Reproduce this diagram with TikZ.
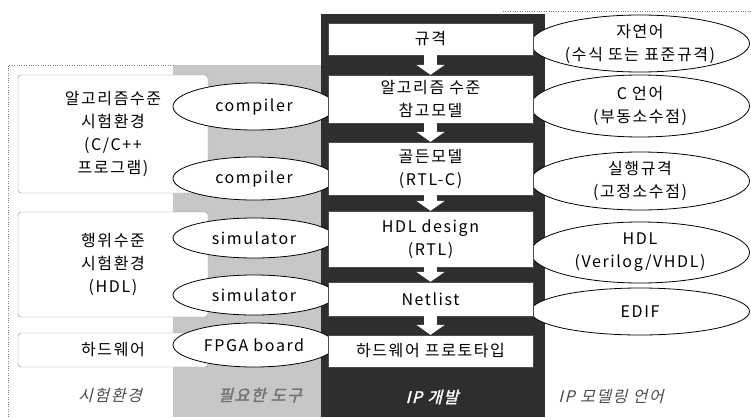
\documentclass[tikz,border=0pt]{standalone}
\usepackage{fontspec}
\setmainfont{Noto Sans CJK KR}[LetterSpace=10]
\newfontfamily\slantfont{Noto Sans CJK KR}[FakeSlant=0.25,LetterSpace=10]
\newfontfamily\heavyslantfont{Noto Sans CJK KR}[FakeSlant=0.25,FakeBold=2,LetterSpace=10]
\usetikzlibrary{shapes.geometric,arrows.meta}

\tikzset{
  ipbox/.style={draw=black!70, fill=white, minimum width=205pt, inner sep=0pt, align=center},
  envbox/.style={draw=black!45, fill=white, rounded corners=3pt, minimum width=190pt, inner sep=0pt, align=center},
  tool/.style={ellipse, draw, thick, fill=white, minimum width=162pt, inner sep=0pt},
  lang/.style={ellipse, draw, thick, fill=white, minimum width=219pt, inner xsep=-20pt, inner ysep=-10pt, align=center},
  flow/.style={draw=white, line width=13pt, -{Triangle[length=10pt,width=28pt]}},
  caption/.style={font=\slantfont\fontsize{16}{23}\selectfont, text=black!70},
  heavycaption/.style={font=\heavyslantfont\fontsize{16}{23}\selectfont}
}

\begin{document}
\begin{tikzpicture}[x=1pt,y=-1pt,font=\fontsize{16}{23}\selectfont]
\useasboundingbox[fill=white] (0,0) rectangle (751,417);

% columns
\fill[black!82] (321,14) rectangle (545,417);
\fill[black!22] (173,65) rectangle (321,417);
\draw[dotted, black!50] (173,65) -- (8,65) -- (8,417);
\draw[dotted, black!50] (503,11) -- (751,11);

\node[envbox, minimum height=118pt] (alg) at (113,134) {알고리즘수준\\시험환경\\(C/C++\\프로그램)};
\node[envbox, minimum height=105pt] (beh) at (113,264.5) {행위수준\\시험환경\\(HDL)};
\node[envbox, minimum height=34pt] (hw) at (113,350) {하드웨어};

\node[tool, minimum height=47pt] (comp1) at (254,106.5) {compiler};
\node[tool, minimum height=43pt] (comp2) at (254,178.5) {compiler};
\node[tool, minimum height=40pt] (sim1) at (254,238) {simulator};
\node[tool, minimum height=40pt] (sim2) at (254,295) {simulator};
\node[tool, minimum height=44pt] (fpga) at (254,345) {FPGA board};

\node[lang, minimum height=57pt] (nat) at (640,43.5) {자연어\\(수식 또는 표준규격)};
\node[lang, minimum height=62pt] (clang) at (640,106) {C 언어\\(부동소수점)};
\node[lang, minimum height=58pt] (exec) at (640,181) {실행규격\\(고정소수점)};
\node[lang, minimum height=61pt] (hdl) at (640,252.5) {HDL\\(Verilog/VHDL)};
\node[lang, minimum height=47pt] (edif) at (640,311.5) {EDIF};

\node[ipbox, minimum height=32pt] (spec) at (430.5,39) {규격};
\node[ipbox, minimum height=48pt] (ref) at (430.5,99) {알고리즘 수준\\참고모델};
\node[ipbox, minimum height=53pt] (golden) at (430.5,168.5) {골든모델\\(RTL-C)};
\node[ipbox, minimum height=56pt] (rtl) at (430.5,239) {HDL design\\(RTL)};
\node[ipbox, minimum height=34pt] (net) at (430.5,299) {Netlist};
\node[ipbox, minimum height=32pt] (proto) at (430.5,351) {하드웨어 프로토타입};

\foreach \a/\b in {spec/ref, ref/golden, golden/rtl, rtl/net, net/proto}
  \draw[flow] (\a) -- (\b);

\node[caption] (envcap) at (110,395) {시험환경};
\node[heavycaption, text=black!55] (toolcap) at (260,395) {필요한 도구};
\node[heavycaption, text=white] (ipcap) at (432,397) {IP 개발};
\node[caption] (langcap) at (611,397) {IP 모델링 언어};
\end{tikzpicture}
\end{document}
